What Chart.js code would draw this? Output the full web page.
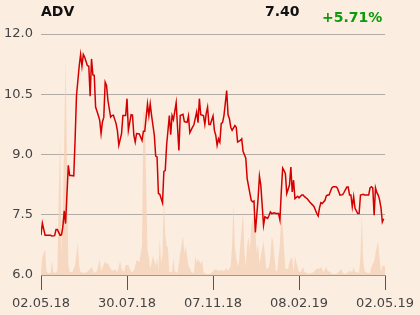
<!DOCTYPE html>
<html>
<head>
<meta charset="utf-8">
<script src="https://cdn.jsdelivr.net/npm/chart.js@4/dist/chart.umd.min.js"></script>
<style>
  html, body { margin: 0; padding: 0; background: #fcede1; }
  #wrap { position: relative; width: 420px; height: 315px; font-family: 'DejaVu Sans', sans-serif; }
  .hdr { position: absolute; font-weight: bold; font-size: 14px; line-height: 14px; }
  #sym { left: 41px; top: 4px; color: #111; }
  #last { left: 265px; top: 4px; color: #111; }
  #chg { left: 322px; top: 10px; color: #0a9a0a; }
</style>
</head>
<body>
<div id="wrap">
  <canvas id="chart" width="420" height="315"></canvas>
  <div class="hdr" id="sym">ADV</div>
  <div class="hdr" id="last">7.40</div>
  <div class="hdr" id="chg">+5.71%</div>
</div>
<script>
// ---- Data (trading day index from 02.05.18) ----
const dateLabels = ['02.05.18', '30.07.18', '07.11.18', '08.02.19', '02.05.19'];
const tickDays = [0, 63, 126, 189, 252];

const priceDays = [
  0, 1, 3, 4, 7, 8, 10, 11, 12, 14, 15, 16, 17, 18, 20, 21, 22, 24, 25, 26,
  28, 29, 30, 31, 32, 34, 35, 36, 37, 38, 39, 40, 42, 43, 44, 45, 46, 47, 48, 49,
  51, 52, 53, 55, 56, 57, 59, 60, 62, 63, 64, 66, 67, 68, 69, 70, 72, 74, 75, 76,
  78, 79, 80, 81, 83, 84, 85, 86, 87, 89, 90, 91, 92, 94, 95, 96, 97, 99, 100, 101,
  102, 104, 105, 107, 108, 109, 111, 112, 114, 115, 116, 117, 119, 120, 121, 122, 123, 124, 126, 127,
  128, 129, 130, 131, 132, 133, 134, 136, 137, 138, 139, 140, 142, 143, 144, 146, 147, 148, 150, 151,
  153, 154, 155, 156, 157, 159, 160, 161, 162, 163, 164, 166, 167, 168, 169, 171, 172, 174, 175, 176,
  177, 178, 179, 180, 182, 183, 184, 185, 186, 188, 189, 191, 192, 193, 195, 197, 199, 200, 202, 203,
  204, 205, 206, 208, 209, 210, 211, 213, 214, 216, 217, 219, 221, 222, 224, 225, 226, 227, 228, 229,
  230, 232, 233, 234, 236, 237, 240, 241, 242, 243, 244, 245, 246, 247, 248, 249, 250, 251
];
const prices = [
  6.99, 7.29, 6.99, 6.99, 6.99, 6.97, 6.98, 7.13, 7.13, 6.99, 7.00, 7.20, 7.60, 7.28, 8.73, 8.48, 8.48, 8.47, 9.39, 10.47,
  11.21, 11.49, 11.20, 11.49, 11.42, 11.21, 11.20, 10.45, 11.38, 10.98, 10.97, 10.18, 9.97, 9.85, 9.52, 9.81, 9.93, 10.80, 10.72, 10.35,
  9.93, 9.97, 9.98, 9.77, 9.58, 9.23, 9.52, 9.97, 9.97, 10.39, 9.60, 9.99, 9.98, 9.48, 9.31, 9.52, 9.51, 9.35, 9.58, 9.58,
  10.26, 9.97, 10.26, 9.97, 9.48, 8.96, 8.94, 8.03, 8.01, 7.80, 8.58, 8.60, 9.23, 9.97, 9.49, 9.97, 9.87, 10.29, 9.68, 9.10,
  9.97, 10.00, 9.82, 9.80, 9.96, 9.54, 9.68, 9.74, 10.06, 9.79, 10.39, 9.99, 9.97, 9.75, 10.02, 10.18, 9.75, 9.75, 9.96, 9.60,
  9.48, 9.23, 9.39, 9.31, 9.77, 9.80, 9.97, 10.59, 9.99, 9.89, 9.68, 9.60, 9.72, 9.68, 9.31, 9.35, 9.39, 9.08, 8.91, 8.40,
  8.03, 7.86, 7.82, 7.84, 7.06, 7.90, 8.46, 8.23, 7.74, 7.24, 7.45, 7.41, 7.48, 7.57, 7.53, 7.55, 7.53, 7.53, 7.37, 8.07,
  8.66, 8.60, 8.52, 8.03, 8.24, 8.69, 8.07, 8.36, 7.90, 7.96, 7.92, 7.99, 7.99, 7.95, 7.90, 7.81, 7.74, 7.70, 7.53, 7.47,
  7.67, 7.80, 7.78, 7.86, 7.97, 7.99, 7.99, 8.17, 8.20, 8.20, 8.17, 7.99, 8.00, 8.06, 8.19, 8.19, 7.99, 7.99, 7.70, 7.95,
  7.66, 7.53, 7.53, 7.99, 8.01, 7.99, 7.99, 8.17, 8.20, 8.17, 7.49, 8.17, 8.05, 7.99, 7.87, 7.68, 7.32, 7.40
];

// volume in thousands of shares
const volumeDays = [
  0, 1, 3, 4, 5, 7, 8, 9, 11, 12, 13, 14, 15, 16, 18, 19, 20, 21, 23, 25,
  27, 28, 29, 31, 34, 37, 39, 41, 43, 44, 47, 48, 49, 51, 53, 54, 56, 58, 59, 61,
  62, 64, 66, 68, 70, 72, 74, 75, 76, 78, 79, 80, 82, 84, 85, 86, 87, 88, 89, 90,
  91, 92, 93, 94, 96, 97, 98, 100, 102, 104, 105, 106, 108, 109, 110, 112, 113, 114, 115, 117,
  118, 119, 121, 124, 126, 128, 130, 132, 134, 136, 137, 139, 140, 141, 142, 143, 144, 145, 146, 148,
  149, 150, 151, 152, 153, 154, 156, 157, 158, 159, 160, 162, 163, 164, 165, 167, 168, 169, 170, 171,
  172, 173, 175, 176, 177, 179, 181, 182, 184, 185, 186, 187, 189, 190, 192, 193, 195, 196, 200, 201,
  203, 204, 205, 207, 209, 210, 212, 213, 216, 218, 220, 221, 223, 226, 228, 229, 230, 233, 234, 235,
  236, 237, 239, 241, 242, 244, 246, 247, 248, 249, 250, 252
];
const volumes = [
  3, 18, 26, 4, 2, 2, 14, 3, 2, 5, 80, 137, 20, 60, 217, 120, 10, 3, 3, 10,
  33, 8, 3, 2, 3, 8, 2, 4, 16, 4, 14, 11, 12, 6, 4, 6, 3, 14, 6, 3,
  10, 10, 3, 4, 15, 13, 30, 163, 163, 25, 18, 6, 19, 9, 17, 4, 37, 12, 20, 80,
  40, 29, 27, 3, 3, 17, 4, 2, 22, 39, 22, 29, 9, 7, 3, 2, 19, 12, 16, 11,
  15, 3, 1, 1, 4, 6, 4, 5, 4, 7, 4, 9, 31, 71, 28, 18, 9, 13, 31, 63,
  24, 8, 31, 38, 24, 48, 61, 44, 22, 31, 11, 26, 34, 21, 6, 8, 19, 38, 34, 18,
  4, 4, 31, 64, 48, 6, 6, 14, 18, 3, 19, 13, 3, 3, 8, 3, 2, 1, 3, 5,
  7, 6, 8, 3, 8, 4, 3, 1, 1, 3, 6, 2, 1, 4, 3, 8, 3, 2, 20, 60,
  15, 4, 2, 2, 8, 14, 29, 33, 16, 3, 9, 9
];

// ---- Chart ----
const pricePoints = priceDays.map((d, i) => ({ x: d, y: prices[i] }));
const volumePoints = volumeDays.map((d, i) => ({ x: d, y: volumes[i] }));

Chart.defaults.font.family = "'DejaVu Sans', sans-serif";
Chart.defaults.font.size = 13;
Chart.defaults.color = '#444';

new Chart(document.getElementById('chart'), {
    type: 'line',
    data: {
        datasets: [
            {
                data: pricePoints,
                yAxisID: 'y',
                borderColor: '#d40000',
                borderWidth: 1.5,
                pointRadius: 0,
                tension: 0,
                fill: false,
                order: 0
            },
            {
                data: volumePoints,
                yAxisID: 'vol',
                borderWidth: 0,
                backgroundColor: 'rgba(244, 207, 178, 0.7)',
                pointRadius: 0,
                tension: 0,
                fill: 'origin',
                order: 1
            }
        ]
    },
    options: {
        responsive: false,
        animation: false,
        layout: { padding: { top: 34, right: 34, left: 0, bottom: 0 } },
        plugins: { legend: { display: false }, tooltip: { enabled: false } },
        scales: {
            x: {
                type: 'linear',
                min: 0,
                max: 252,
                afterBuildTicks: axis => { axis.ticks = tickDays.map(v => ({ value: v })); },
                afterFit: axis => { axis.height = 40; },
                ticks: {
                    maxRotation: 0,
                    padding: 6,
                    callback: v => dateLabels[tickDays.indexOf(v)]
                },
                grid: { drawOnChartArea: false, drawTicks: true, tickLength: 15, color: '#555' },
                border: { color: '#999' }
            },
            y: {
                min: 6,
                max: 12,
                afterBuildTicks: axis => { axis.ticks = [6, 7.5, 9, 10.5, 12].map(v => ({ value: v })); },
                afterFit: axis => { axis.width = 41; },
                ticks: { padding: 8, callback: v => v.toFixed(1) },
                grid: { color: '#b3aca6', drawTicks: false },
                border: { display: false }
            },
            vol: {
                display: false,
                min: 0,
                max: 241
            }
        }
    }
});
</script>
</body>
</html>
